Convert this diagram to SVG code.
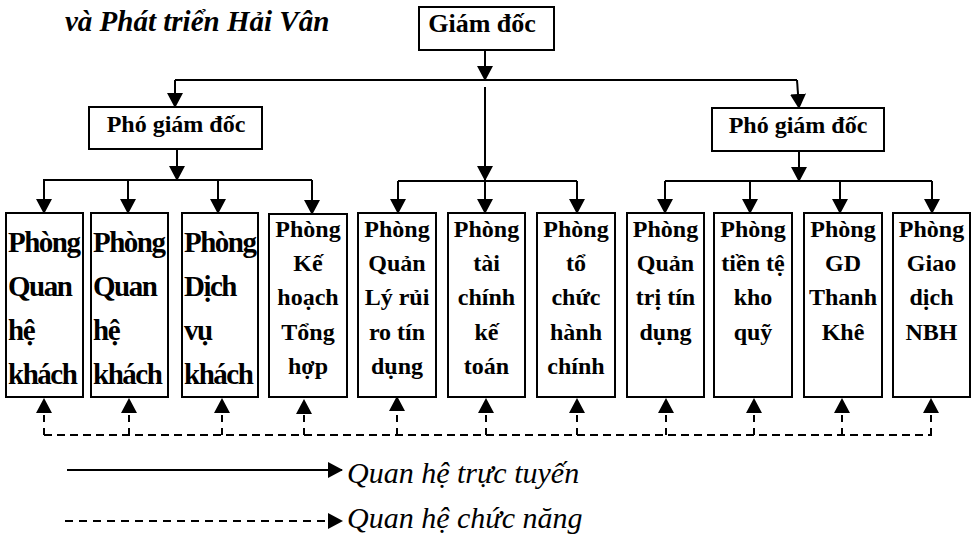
<svg xmlns="http://www.w3.org/2000/svg" width="973" height="536" viewBox="0 0 973 536">
<style>
.bx{fill:#fff;stroke:#000;stroke-width:2}
.t{font-family:"Liberation Serif","Times New Roman",serif;font-weight:bold;fill:#000}
.c{text-anchor:middle;font-size:24px}
.big{font-size:29px;letter-spacing:-1.5px}
.ln{fill:none;stroke:#000;stroke-width:2}
.ar{fill:none;stroke:#000;stroke-width:2;marker-end:url(#ah)}
.da{fill:none;stroke:#000;stroke-width:2;stroke-dasharray:8 5}
.dar{fill:none;stroke:#000;stroke-width:2;stroke-dasharray:7 6;marker-end:url(#ah)}
.lg{font-family:"Liberation Serif","Times New Roman",serif;font-style:italic;font-size:30px;fill:#000}
</style>
<defs>
<marker id="ah" viewBox="0 0 15 16" refX="14" refY="8" markerWidth="15" markerHeight="16" markerUnits="userSpaceOnUse" orient="auto">
<path d="M0,0 L15,8 L0,16 z" fill="#000"/>
</marker>
</defs>
<rect width="973" height="536" fill="#fff"/>
<text x="65" y="31" class="t" style="font-style:italic;font-size:29px">và Phát triển Hải Vân</text>

<g id="connectors">
<path class="ar" d="M485,50 V80"/>
<path class="ln" d="M175,80 H797"/>
<path class="ar" d="M175,80 V107"/>
<path class="ar" d="M797,80 L799,108"/>
<path class="ar" d="M485,87 V180"/>
<path class="ar" d="M177,149 V180"/>
<path class="ar" d="M799,151 V181"/>
<path class="ln" d="M43,180 H312"/>
<path class="ln" d="M398,181 H577"/>
<path class="ln" d="M665,181 H932"/>
<path class="ar" d="M44,180 V213"/>
<path class="ar" d="M128,180 V213"/>
<path class="ar" d="M218,180 V213"/>
<path class="ar" d="M312,180 V214"/>
<path class="ar" d="M398,181 V213"/>
<path class="ar" d="M485,181 V213"/>
<path class="ar" d="M577,181 V213"/>
<path class="ar" d="M665,181 V213"/>
<path class="ar" d="M750,181 V213"/>
<path class="ar" d="M840,181 V213"/>
<path class="ar" d="M932,181 V213"/>
<path class="da" d="M44,435 H932"/>
<path class="dar" d="M44,435 V399"/>
<path class="dar" d="M129,435 V399"/>
<path class="dar" d="M222,435 V399"/>
<path class="dar" d="M304,435 V400"/>
<path class="dar" d="M397,435 V397"/>
<path class="dar" d="M486,435 V399"/>
<path class="dar" d="M577,435 V399"/>
<path class="dar" d="M666,435 V399"/>
<path class="dar" d="M754,435 V399"/>
<path class="dar" d="M842,435 V399"/>
<path class="dar" d="M931,435 V399"/>
</g>

<g id="giam-doc">
<rect class="bx" x="419" y="7" width="135" height="43"/>
<text class="t c" x="482" y="32" style="font-size:26px">Giám đốc</text>
</g>
<g id="pgd-trai">
<rect class="bx" x="89" y="107" width="173" height="42"/>
<text class="t c" x="176" y="132">Phó giám đốc</text>
</g>
<g id="pgd-phai">
<rect class="bx" x="712" y="108" width="172" height="43"/>
<text class="t c" x="798" y="133">Phó giám đốc</text>
</g>

<g id="p1">
<rect class="bx" x="6" y="213" width="77" height="184"/>
<text class="t big" x="8"><tspan x="8" y="252">Phòng</tspan><tspan x="8" y="296">Quan</tspan><tspan x="8" y="340">hệ</tspan><tspan x="8" y="384">khách</tspan></text>
</g>
<g id="p2">
<rect class="bx" x="91" y="213" width="77" height="184"/>
<text class="t big" x="93"><tspan x="93" y="252">Phòng</tspan><tspan x="93" y="296">Quan</tspan><tspan x="93" y="340">hệ</tspan><tspan x="93" y="384">khách</tspan></text>
</g>
<g id="p3">
<rect class="bx" x="182" y="213" width="76" height="184"/>
<text class="t big" x="184"><tspan x="184" y="252">Phòng</tspan><tspan x="184" y="296">Dịch</tspan><tspan x="184" y="340">vụ</tspan><tspan x="184" y="384">khách</tspan></text>
</g>
<g id="p4">
<rect class="bx" x="269" y="214" width="78" height="183"/>
<text class="t c"><tspan x="308" y="237">Phòng</tspan><tspan x="308" y="271">Kế</tspan><tspan x="308" y="305">hoạch</tspan><tspan x="308" y="340">Tổng</tspan><tspan x="308" y="374">hợp</tspan></text>
</g>
<g id="p5">
<rect class="bx" x="358" y="213" width="78" height="184"/>
<text class="t c"><tspan x="397" y="237">Phòng</tspan><tspan x="397" y="271">Quản</tspan><tspan x="397" y="305">Lý rủi</tspan><tspan x="397" y="340">ro tín</tspan><tspan x="397" y="374">dụng</tspan></text>
</g>
<g id="p6">
<rect class="bx" x="448" y="213" width="77" height="184"/>
<text class="t c"><tspan x="486.5" y="237">Phòng</tspan><tspan x="486.5" y="271">tài</tspan><tspan x="486.5" y="305">chính</tspan><tspan x="486.5" y="340">kế</tspan><tspan x="486.5" y="374">toán</tspan></text>
</g>
<g id="p7">
<rect class="bx" x="537" y="213" width="78" height="184"/>
<text class="t c"><tspan x="576" y="237">Phòng</tspan><tspan x="576" y="271">tổ</tspan><tspan x="576" y="305">chức</tspan><tspan x="576" y="340">hành</tspan><tspan x="576" y="374">chính</tspan></text>
</g>
<g id="p8">
<rect class="bx" x="627" y="213" width="77" height="184"/>
<text class="t c"><tspan x="665.5" y="237">Phòng</tspan><tspan x="665.5" y="271">Quản</tspan><tspan x="665.5" y="305">trị tín</tspan><tspan x="665.5" y="340">dụng</tspan></text>
</g>
<g id="p9">
<rect class="bx" x="714" y="213" width="78" height="184"/>
<text class="t c"><tspan x="753" y="237">Phòng</tspan><tspan x="753" y="271">tiền tệ</tspan><tspan x="753" y="305">kho</tspan><tspan x="753" y="340">quỹ</tspan></text>
</g>
<g id="p10">
<rect class="bx" x="804" y="213" width="78" height="184"/>
<text class="t c"><tspan x="843" y="237">Phòng</tspan><tspan x="843" y="271">GD</tspan><tspan x="843" y="305">Thanh</tspan><tspan x="843" y="340">Khê</tspan></text>
</g>
<g id="p11">
<rect class="bx" x="893" y="213" width="77" height="184"/>
<text class="t c"><tspan x="931.5" y="237">Phòng</tspan><tspan x="931.5" y="271">Giao</tspan><tspan x="931.5" y="305">dịch</tspan><tspan x="931.5" y="340">NBH</tspan></text>
</g>

<g id="legend">
<path class="ar" d="M67,470 H342"/>
<text class="lg" x="347" y="483">Quan hệ trực tuyến</text>
<path class="dar" d="M65,521 H342" style="stroke-dasharray:8 6"/>
<text class="lg" x="347" y="528">Quan hệ chức năng</text>
</g>
</svg>
